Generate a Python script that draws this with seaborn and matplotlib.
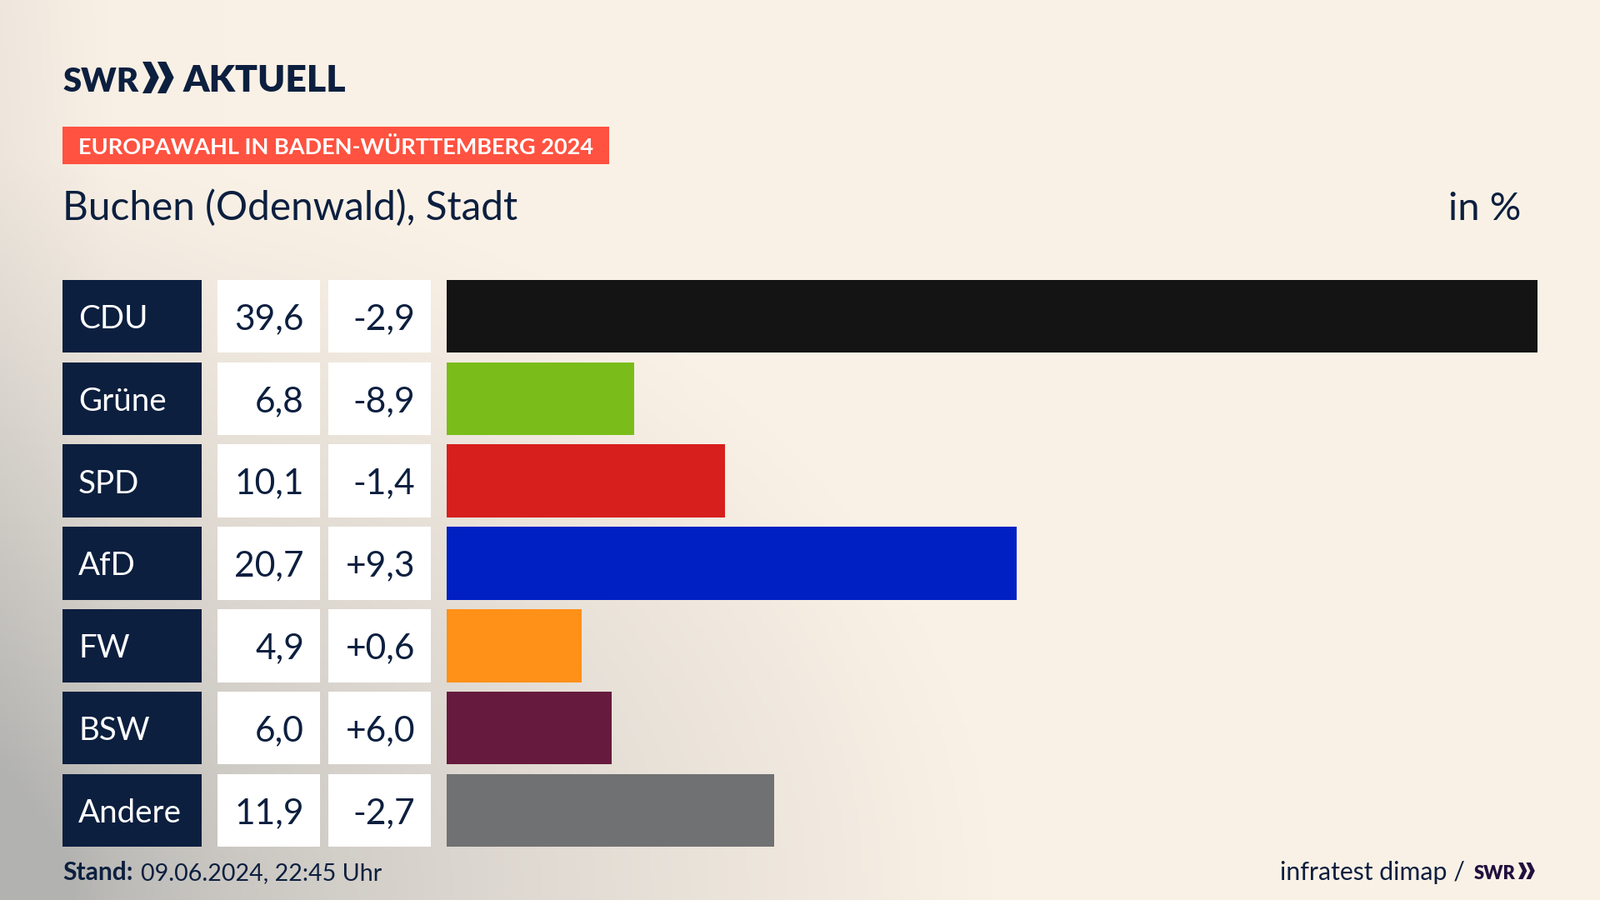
import numpy as np
import matplotlib
matplotlib.use("Agg")
import matplotlib.pyplot as plt
from matplotlib.patches import Polygon, Rectangle
import seaborn as sns

# data
parties = ["CDU", "Grüne", "SPD", "AfD", "FW", "BSW", "Andere"]
shares = [39.6, 6.8, 10.1, 20.7, 4.9, 6.0, 11.9]
changes = [-2.9, -8.9, -1.4, 9.3, 0.6, 6.0, -2.7]
bar_colors = ["#141414", "#7abd1a", "#d71f1d", "#0020c4", "#ff9018", "#661a3d", "#707172"]

NAVY = "#0c1f3f"
W, H = 1920, 1080
FONT = "Lato"
BAR_W = 0.885

sns.set_theme(style="white", rc={"font.family": FONT})


def px(size):
    return size * 0.72


def fx(x):
    return x / W


def fy(y):
    return 1 - y / H


def column_axes(x0, x1):
    # same vertical extent for every column, one row = 98.83 px
    return fig.add_axes([fx(x0), fy(1022), (x1 - x0) / W, (1022 - 330) / H])


def clean(ax, xlim):
    ax.set_xlim(*xlim)
    ax.set_ylim(6.5, -0.5)
    ax.set_xlabel("")
    ax.set_ylabel("")
    ax.set_xticks([])
    ax.set_yticks([])
    ax.patch.set_alpha(0)
    sns.despine(ax=ax, left=True, bottom=True)


def chevrons(x, y, h, color):
    # logo arrows, x,y = left/top in pixels
    w = h * 0.52
    thick = h * 0.27
    for off in (0, h * 0.47):
        pts = [(x + off, y), (x + off + thick, y), (x + off + w, y + h / 2),
               (x + off + thick, y + h), (x + off, y + h), (x + off + w - thick, y + h / 2)]
        fig.add_artist(Polygon([(fx(a), fy(b)) for a, b in pts], closed=True, color=color,
                               lw=0, transform=fig.transFigure))


fig = plt.figure(figsize=(W / 100, H / 100), dpi=100)

# background gradient, grey in the lower left corner
bg = fig.add_axes([0, 0, 1, 1], zorder=-1)
yy, xx = np.mgrid[0:1:216j, 0:1:384j]
dist = np.sqrt((xx * 1.0) ** 2 + ((1 - yy) * 0.75) ** 2)
t = np.clip(dist / 0.62, 0, 1) ** 0.75
left_shade = np.clip(1 - xx / 0.14, 0, 1) * np.clip(1.15 - (1 - yy), 0, 1) * 0.12
top_left = np.clip(1 - xx / 0.07, 0, 1) * 0.14
t = np.clip(t - left_shade - top_left, 0, 1)
grey = np.array([178, 178, 176]) / 255
cream = np.array([250, 241, 230]) / 255
img = grey + (cream - grey) * t[..., None]
bg.imshow(img, extent=[0, 1, 0, 1], origin="upper", aspect="auto")
bg.axis("off")

# party names
ax_names = column_axes(75, 242)
sns.barplot(y=parties, x=[1] * len(parties), color=NAVY, width=BAR_W, saturation=1, linewidth=0, ax=ax_names)
clean(ax_names, (0, 1))
for i, name in enumerate(parties):
    ax_names.text(19 / 167, i, name, color="white", fontsize=px(38.5), ha="left", va="center_baseline")

# share cells
ax_val = column_axes(261, 384)
sns.barplot(y=parties, x=[1] * len(parties), color="white", width=BAR_W, saturation=1, linewidth=0, ax=ax_val)
clean(ax_val, (0, 1))
for i, v in enumerate(shares):
    ax_val.text(104 / 123, i, f"{v:.1f}".replace(".", ","), color=NAVY, fontsize=px(42.5),
                ha="right", va="center_baseline")

# change cells
ax_chg = column_axes(394, 517)
sns.barplot(y=parties, x=[1] * len(parties), color="white", width=BAR_W, saturation=1, linewidth=0, ax=ax_chg)
clean(ax_chg, (0, 1))
for i, c in enumerate(changes):
    ax_chg.text(104 / 123, i, f"{c:+.1f}".replace(".", ","), color=NAVY, fontsize=px(42.5),
                ha="right", va="center_baseline")

# result bars
ax_bar = column_axes(536, 1845)
sns.barplot(y=parties, x=shares, hue=parties, palette=bar_colors, legend=False,
            width=BAR_W, saturation=1, linewidth=0, ax=ax_bar)
clean(ax_bar, (0, 39.6))

# header
fig.text(fx(75), fy(110), "SWR", color=NAVY, fontsize=px(40), fontweight="black", ha="left", va="baseline")
chevrons(171, 74, 38, NAVY)
fig.text(fx(220), fy(110), "AKTUELL", color=NAVY, fontsize=px(44.5), fontweight="black", ha="left", va="baseline")

fig.add_artist(Rectangle((fx(75), fy(197)), 656 / W, 45 / H, color="#ff5240", lw=0, transform=fig.transFigure))
fig.text(fx(94), fy(185), "EUROPAWAHL IN BADEN-WÜRTTEMBERG 2024", color="white", fontsize=px(27.1),
         fontweight="bold", ha="left", va="baseline")

fig.text(fx(75), fy(264), "Buchen (Odenwald), Stadt", color=NAVY, fontsize=px(47.7), ha="left", va="baseline")
fig.text(fx(1825), fy(264), "in %", color=NAVY, fontsize=px(47), ha="right", va="baseline")

# footer
fig.text(fx(75), fy(1056), "Stand:", color=NAVY, fontsize=px(30), fontweight="bold", ha="left", va="baseline")
fig.text(fx(169), fy(1056), "09.06.2024, 22:45 Uhr", color=NAVY, fontsize=px(28.6), ha="left", va="baseline")
fig.text(fx(1758), fy(1056), "infratest dimap /", color=NAVY, fontsize=px(30.2), ha="right", va="baseline")
fig.text(fx(1769), fy(1055), "SWR", color="#22103f", fontsize=px(22), fontweight="black", ha="left", va="baseline")
chevrons(1822, 1035, 20, "#22103f")

fig.savefig("out.png", dpi=100)
